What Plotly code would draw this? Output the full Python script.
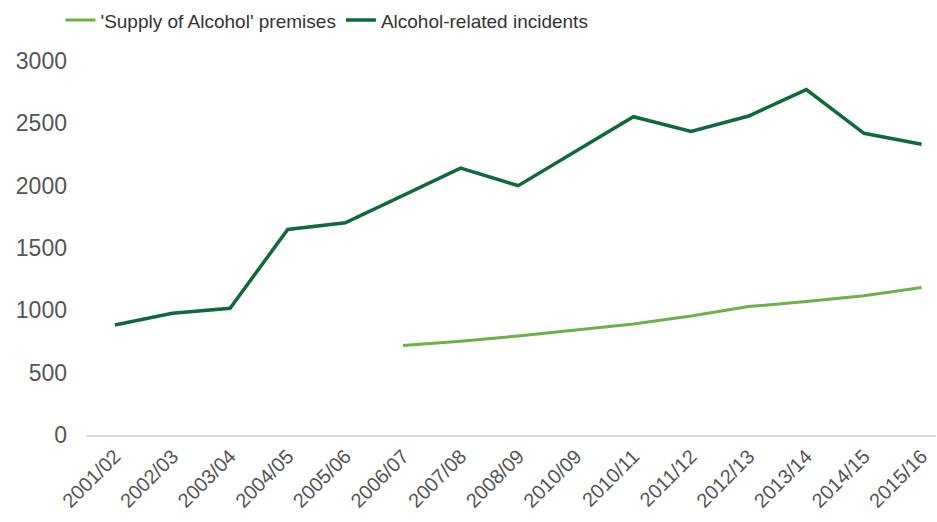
import plotly.graph_objects as go

years = ["2001/02", "2002/03", "2003/04", "2004/05", "2005/06", "2006/07", "2007/08",
         "2008/09", "2010/09", "2010/11", "2011/12", "2012/13", "2013/14", "2014/15", "2015/16"]
supply = [None, None, None, None, None, 718, 752, 795, 843, 891, 955, 1030, 1070, 1117, 1183]
incidents = [883, 976, 1016, 1649, 1702, 1920, 2141, 2000, 2276, 2553, 2434, 2559, 2771, 2420, 2332]

FONT = "Liberation Sans, Arial, sans-serif"

fig = go.Figure()
fig.add_trace(go.Scatter(x=years, y=supply, mode="lines", name="'Supply of Alcohol' premises",
                         line=dict(color="#6cb145", width=3)))
fig.add_trace(go.Scatter(x=years, y=incidents, mode="lines", name="Alcohol-related incidents",
                         line=dict(color="#0d6a3b", width=3.5)))

fig.update_layout(
    width=937, height=522,
    margin=dict(l=86, r=1, t=59, b=87),
    paper_bgcolor="white", plot_bgcolor="white",
    font=dict(family=FONT, color="#555555"),
    showlegend=True,
    legend=dict(orientation="h", x=-0.03, xanchor="left", y=1.109, yanchor="middle",
                font=dict(family=FONT, size=19, color="#333333"),
                itemwidth=30, bgcolor="rgba(0,0,0,0)"),
    xaxis=dict(type="category", range=[-0.5, 14.25], showgrid=False, showline=True,
               linecolor="#d9d9d9", linewidth=1.5, ticks="", tickangle=-45,
               tickfont=dict(family=FONT, size=20, color="#555555")),
    yaxis=dict(range=[0, 3000], dtick=500, showgrid=False, zeroline=False, showline=False,
               ticks="", ticklabelstandoff=18,
               tickfont=dict(family=FONT, size=23, color="#555555")),
)

fig.write_html("out.html")
